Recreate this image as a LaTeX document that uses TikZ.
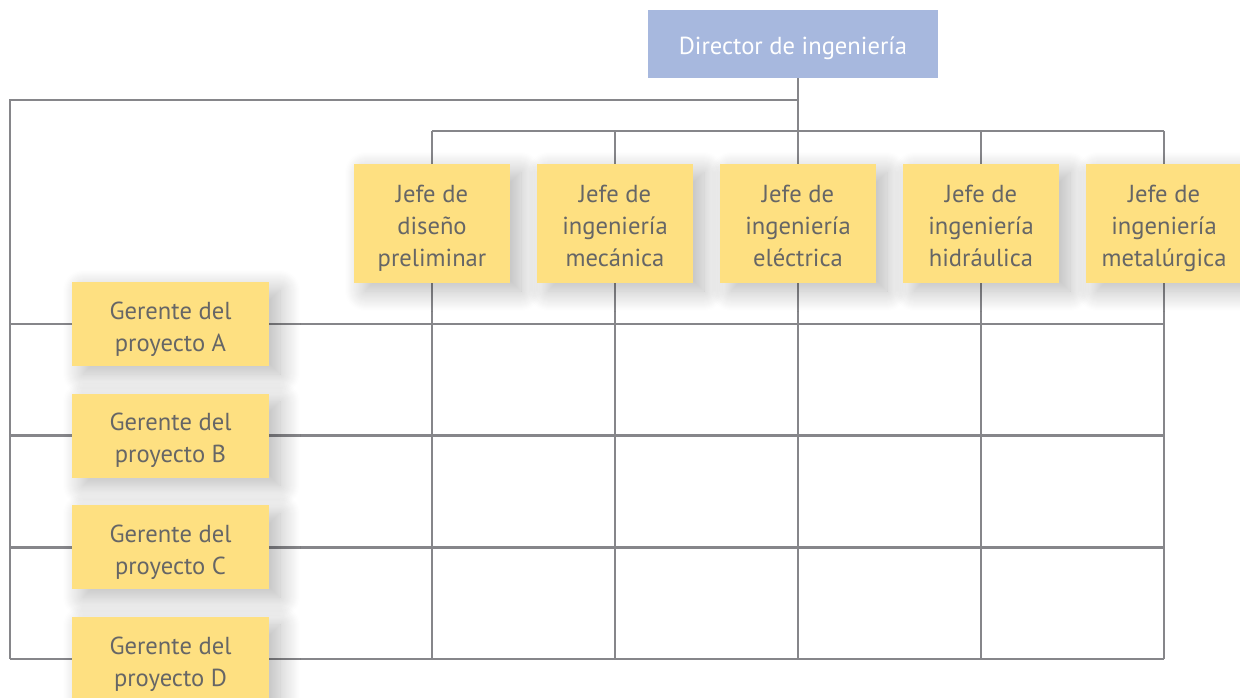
\documentclass[tikz,border=0pt]{standalone}
\usepackage{fontspec}
\setmainfont{PT Sans}
\usetikzlibrary{positioning,shadows.blur,backgrounds}
\definecolor{dirblue}{HTML}{A7B8DE}
\definecolor{boxyellow}{HTML}{FEE081}
\definecolor{txtgrey}{HTML}{666666}
\definecolor{linegrey}{HTML}{86868A}
\begin{document}
\begin{tikzpicture}[node distance=3.66cm, auto,
    font=\fontsize{14}{18.2}\selectfont\rule{0pt}{1.05em},
    chief/.style={fill=boxyellow, text=txtgrey, align=center, inner sep=0pt,
        minimum width=3.12cm, minimum height=2.38cm, text height=52.5pt, text depth=3.5pt,
        blur shadow={shadow xshift=0.22cm, shadow yshift=-0.16cm, shadow blur radius=0.4cm, shadow blur steps=20, shadow opacity=28}},
    manager/.style={chief, minimum width=3.94cm, minimum height=1.68cm, text height=34.3pt},
    link/.style={draw=linegrey, line width=1.4pt}]
        \useasboundingbox (0,0) rectangle (24.8,-13.94);

        % The Director
        \node (dir) [fill=dirblue, text=white, minimum width=5.8cm, minimum height=1.36cm] at (15.86,-0.88) {Director de ingeniería};

        % The Chiefs
        \node (jP) [chief] at (8.64,-4.47) {Jefe de\\diseño\\preliminar};
        \node (jM) [chief, right of=jP] {Jefe de\\ingeniería\\mecánica};
        \node (jE) [chief, right of=jM] {Jefe de\\ingeniería\\eléctrica};
        \node (jH) [chief, right of=jE] {Jefe de\\ingeniería\\hidráulica};
        \node (jT) [chief, right of=jH] {Jefe de\\ingeniería\\metalúrgica};

        % The Managers
        \node (gA) [manager] at (3.41,-6.48) {Gerente del\\proyecto A};
        \node (gB) [manager, below of=gA, node distance=2.233cm] {Gerente del\\proyecto B};
        \node (gC) [manager, below of=gB, node distance=2.233cm] {Gerente del\\proyecto C};
        \node (gD) [manager, below of=gC, node distance=2.233cm] {Gerente del\\proyecto D};

        \coordinate (spine) at (0.2,-2.0);
        \coordinate (bus) at (0.2,-2.62);

        \begin{scope}[on background layer]
            \draw[link] (dir.south -| jE) -- (bus -| jE);
            \draw[link] (spine -| jE) -- (spine) -- (spine |- gD);
            \draw[link] (bus -| jP) -- (bus -| jT);
            \foreach \j in {jP,jM,jE,jH,jT} {
                \draw[link] (bus -| \j) -- (\j.north);
                \draw[link] (\j.south) -- (\j |- gD);
            }
            \foreach \g in {gA,gB,gC,gD}
                \draw[link] (spine |- \g) -- (jT |- \g);
        \end{scope}
    \end{tikzpicture}
\end{document}
